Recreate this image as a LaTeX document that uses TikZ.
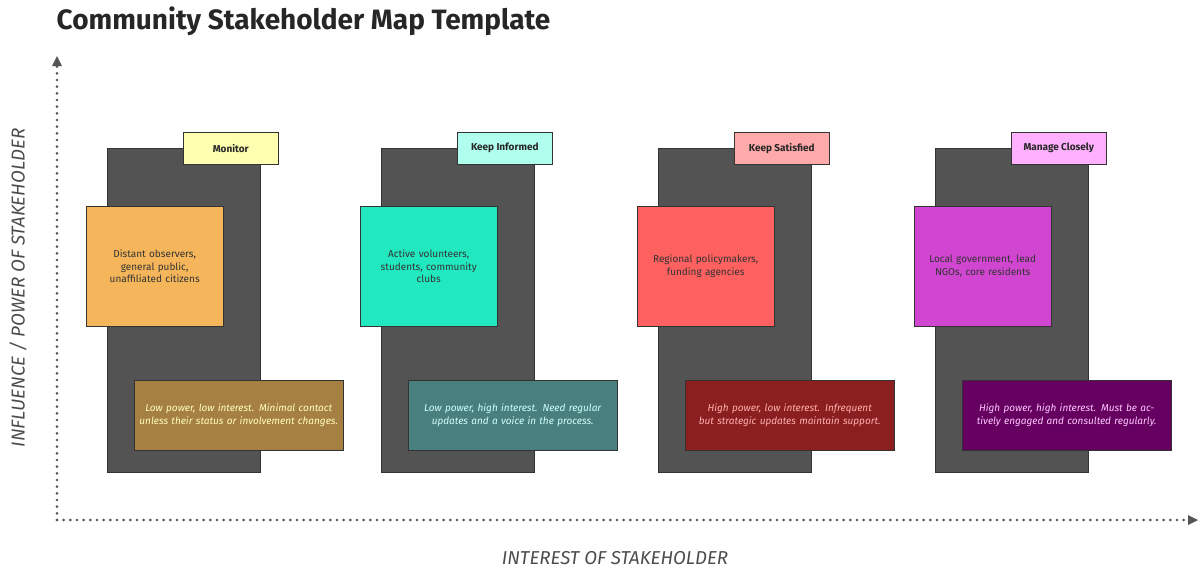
\documentclass[tikz,border=0pt]{standalone}
\usepackage{fontspec}
\setmainfont{Fira Sans}
\usetikzlibrary{arrows.meta}
\definecolor{panelGray}{HTML}{535353}
\definecolor{axisGray}{HTML}{555555}
\tikzset{
  panel/.style={draw=black!80, fill=panelGray, anchor=north west, inner sep=0pt},
  tag/.style={draw=black!80, anchor=north west, minimum width=71.25pt, minimum height=24pt,
    font=\fontsize{7.5}{9}\selectfont\bfseries, text=black!85},
  group/.style={draw=black!80, anchor=north west, minimum width=99pt, minimum height=90pt,
    text width=96pt, align=center, font=\fontsize{7.5}{9.5}\selectfont, text=black!80},
  note/.style={draw=black!80, anchor=north west, minimum width=156pt, minimum height=52.5pt,
    text width=150pt, align=center, font=\fontsize{7.5}{9.5}\selectfont\itshape},
  axis/.style={line width=2.2pt, axisGray, dash pattern=on 0pt off 5pt, line cap=round},
  axislabel/.style={font=\fontsize{14}{16}\selectfont\itshape, text=black!70}
}
\begin{document}
\begin{tikzpicture}[x=0.75pt,y=-0.75pt]
\useasboundingbox (0,0) rectangle (1200,579);
\node[anchor=west, font=\fontsize{21}{24}\selectfont\bfseries, text=black!85] (title) at (52,21) {Community Stakeholder Map Template};
% columns
\foreach \x/\name/\tagc/\grpc/\notec/\notet/\lbl/\grp/\txt in {
  0/mon/FFFFB0/F5B55A/A67F42/FFFFC0/Monitor/{Distant observers,\\general public,\\unaffiliated citizens}/{Low power, low interest. Minimal contact unless their status or involvement changes.},
  274/inf/B0FFEE/22E8C0/4A7F80/D0FFF8/Keep Informed/{Active volunteers,\\students, community\\clubs}/{Low power, high interest. Need regular updates and a voice in the process.},
  551/sat/FFAAAA/FF6060/8B1E1E/FFB0B0/Keep Satisfied/{Regional policymakers,\\funding agencies}/{High power, low interest. Infrequent but strategic updates maintain support.},
  828/man/FFB0FF/D046D0/650060/FFC8FF/Manage Closely/{Local government, lead\\NGOs, core residents}/{High power, high interest. Must be actively engaged and consulted regularly.}} {
  \definecolor{tagc}{HTML}{\tagc}
  \definecolor{grpc}{HTML}{\grpc}
  \definecolor{notec}{HTML}{\notec}
  \definecolor{notet}{HTML}{\notet}
  \node[panel, minimum width=114.75pt, minimum height=243pt] (\name-panel) at (107+\x,148) {};
  \node[tag, fill=tagc] (\name-tag) at (183+\x,132) {\lbl};
  \node[group, fill=grpc] (\name-group) at (86+\x,206) {\grp};
  \node[note, fill=notec, text=notet] (\name-note) at (134+\x,380) {\txt};
}
% axes
\coordinate (origin) at (57,520);
\coordinate (ytop) at (57,58);
\coordinate (xend) at (1196,520);
\draw[axis] (origin) -- (ytop);
\draw[axis] (origin) -- (xend);
\fill[axisGray] (ytop) ++(-5,8) -- ++(5,-10) -- ++(5,10) -- cycle;
\fill[axisGray] (xend) ++(-8,-5) -- ++(10,5) -- ++(-10,5) -- cycle;
\node[axislabel, rotate=90] (ylabel) at (18,288) {INFLUENCE / POWER OF STAKEHOLDER};
\node[axislabel] (xlabel) at (615,558) {INTEREST OF STAKEHOLDER};
\end{tikzpicture}
\end{document}
